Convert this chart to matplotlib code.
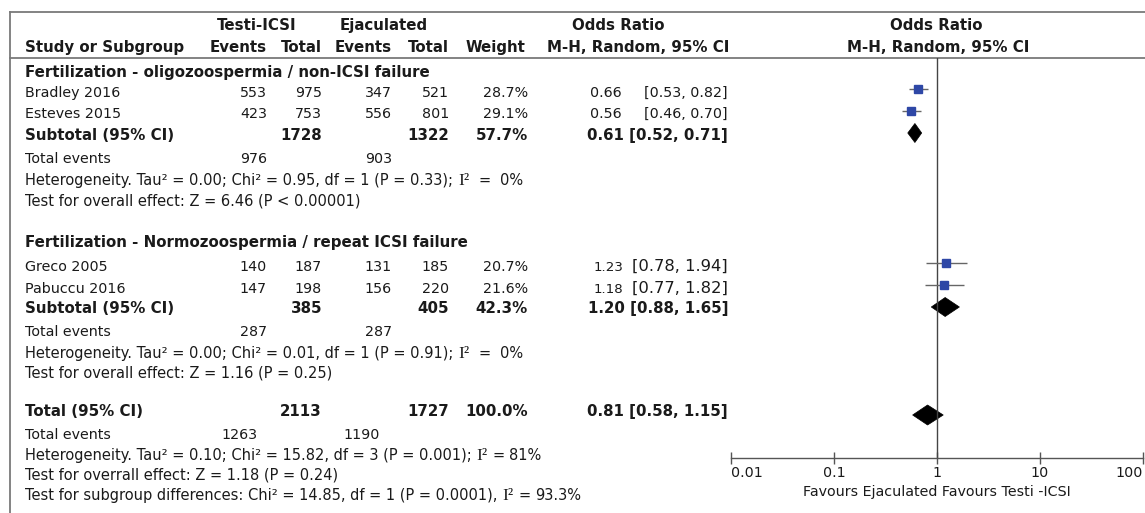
import re
import matplotlib
matplotlib.use('Agg')
import matplotlib.pyplot as plt
from matplotlib.patches import Polygon
from matplotlib.transforms import blended_transform_factory

plt.rcParams['font.family'] = ['DejaVu Sans']

# Study level data
studies = ["Bradley 2016", "Esteves 2015", "Greco 2005", "Pabuccu 2016"]
testi_events = [553, 423, 140, 147]
testi_total = [975, 753, 187, 198]
ejac_events = [347, 556, 131, 156]
ejac_total = [521, 801, 185, 220]
weights = [28.7, 29.1, 20.7, 21.6]
odds = [0.66, 0.56, 1.23, 1.18]
ci_low = [0.53, 0.46, 0.78, 0.77]
ci_high = [0.82, 0.70, 1.94, 1.82]

# Subgroups
groups = ["Fertilization - oligozoospermia / non-ICSI failure",
          "Fertilization - Normozoospermia / repeat ICSI failure"]
sub_testi_total = [1728, 385]
sub_ejac_total = [1322, 405]
sub_weight = [57.7, 42.3]
sub_odds = [0.61, 1.20]
sub_low = [0.52, 0.88]
sub_high = [0.71, 1.65]
sub_testi_events = [976, 287]
sub_ejac_events = [903, 287]
sub_het = ["Heterogeneity. Tau\u00b2 = 0.00; Chi\u00b2 = 0.95, df = 1 (P = 0.33); I\u00b2  =  0%",
           "Heterogeneity. Tau\u00b2 = 0.00; Chi\u00b2 = 0.01, df = 1 (P = 0.91); I\u00b2  =  0%"]
sub_effect = ["Test for overall effect: Z = 6.46 (P < 0.00001)",
              "Test for overall effect: Z = 1.16 (P = 0.25)"]

# Overall
tot_testi_total = 2113
tot_ejac_total = 1727
tot_weight = 100.0
tot_odds, tot_low, tot_high = 0.81, 0.58, 1.15
tot_testi_events = 1263
tot_ejac_events = 1190
tot_notes = ["Heterogeneity. Tau\u00b2 = 0.10; Chi\u00b2 = 15.82, df = 3 (P = 0.001); I\u00b2 = 81%",
             "Test for overrall effect: Z = 1.18 (P = 0.24)",
             "Test for subgroup differences: Chi\u00b2 = 14.85, df = 1 (P = 0.0001), I\u00b2 = 93.3%"]

ticks = [0.01, 0.1, 1, 10, 100]
tick_labels = ["0.01", "0.1", "1", "10", "100"]
favours = "Favours Ejaculated Favours Testi -ICSI"

TXT = '#1a1a1a'
LINE = '#7a7a7a'
BLUE = '#2e47a6'
FS = 10.3      # body text
FS_B = 10.8    # bold rows
FS_N = 10.5    # notes

fig = plt.figure(figsize=(11.45, 5.13), dpi=100)
bg = fig.add_axes([0, 0, 1, 1])
bg.set_xlim(0, 1145)
bg.set_ylim(513, 0)
bg.axis('off')
renderer = fig.canvas.get_renderer()


def put(x, y, s, ha='left', bold=False, size=None, family=None):
    if size is None:
        size = FS_B if bold else FS
    kw = {'family': family} if family else {}
    return bg.text(x, y, s, ha=ha, va='baseline', fontsize=size, color=TXT,
                   fontweight='bold' if bold else 'normal', **kw)


def put_note(x, y, s, size=FS_N):
    # the I-squared symbol is set in a serif face, the rest in the body font
    if "I\u00b2" not in s:
        put(x, y, s, size=size)
        return
    head, tail = s.split("I\u00b2")
    t = put(x, y, head.rstrip(), size=size)
    x += t.get_window_extent(renderer).width + 5
    t = put(x, y, "I\u00b2", size=12.5, family='Liberation Serif')
    x += t.get_window_extent(renderer).width
    for spaces, word in re.findall(r'(\s*)(\S+)', tail):
        x += 4.6 * len(spaces)
        t = put(x, y, word, size=size)
        x += t.get_window_extent(renderer).width


# frame
bg.plot([10, 1145], [12, 12], color=LINE, lw=1.3)
bg.plot([10, 10], [12, 513], color=LINE, lw=1.3)
bg.plot([10, 1145], [58, 58], color=LINE, lw=1.3)

# headers
put(257, 30, "Testi-ICSI", ha='center', bold=True)
put(384, 30, "Ejaculated", ha='center', bold=True)
put(618, 30, "Odds Ratio", ha='center', bold=True)
put(936, 30, "Odds Ratio", ha='center', bold=True)
put(25, 52, "Study or Subgroup", bold=True)
put(267, 52, "Events", ha='right', bold=True)
put(322, 52, "Total", ha='right', bold=True)
put(392, 52, "Events", ha='right', bold=True)
put(449, 52, "Total", ha='right', bold=True)
put(525, 52, "Weight", ha='right', bold=True)
put(638, 52, "M-H, Random, 95% CI", ha='center', bold=True)
put(938, 52, "M-H, Random, 95% CI", ha='center', bold=True)

# columns (right edges)
c_te, c_tt, c_ee, c_et, c_w, c_or, c_ci = 267, 322, 392, 449, 528, 622, 728

group_rows = [
    dict(head=77, studies=[0, 1], base=[97, 118], sub=140, ev=163, het=185, eff=206,
         ymark=[89, 111], ydia=133),
    dict(head=247, studies=[2, 3], base=[271, 293], sub=313, ev=336, het=358, eff=378,
         ymark=[263, 285], ydia=307),
]

fa = fig.add_axes([731 / 1145, 55 / 513, 412 / 1145, 400 / 513])
fa.set_xscale('log')
fa.set_xlim(0.01, 100)
fa.set_ylim(458, 58)
fa.patch.set_alpha(0)
for s in ['top', 'right', 'left']:
    fa.spines[s].set_visible(False)
fa.spines['bottom'].set_color('#555555')
fa.spines['bottom'].set_linewidth(1.0)
fa.set_yticks([])
fa.set_xticks(ticks)
fa.set_xticklabels([])
fa.xaxis.set_minor_locator(plt.NullLocator())
fa.tick_params(axis='x', direction='inout', length=8.5, width=1.0, color='#555555')
fa.axvline(1, color='#444444', lw=1.0)


def diamond(est, lo, hi, y, h):
    fa.add_patch(Polygon([(lo, y), (est, y - h), (hi, y), (est, y + h)],
                         closed=True, facecolor='black', edgecolor='black', lw=0.5))


for g, r in enumerate(group_rows):
    put(25, r['head'], groups[g], bold=True)
    for k, i in enumerate(r['studies']):
        b = r['base'][k]
        put(25, b, studies[i])
        put(c_te, b, str(testi_events[i]), ha='right')
        put(c_tt, b, str(testi_total[i]), ha='right')
        put(c_ee, b, str(ejac_events[i]), ha='right')
        put(c_et, b, str(ejac_total[i]), ha='right')
        put(c_w, b, f"{weights[i]:.1f}%", ha='right')
        if g == 0:
            put(c_or, b, f"{odds[i]:.2f}", ha='right')
            put(c_ci, b, f"[{ci_low[i]:.2f}, {ci_high[i]:.2f}]", ha='right')
        else:
            put(623, b, f"{odds[i]:.2f}", ha='right', size=9.6)
            put(c_ci, b, f"[{ci_low[i]:.2f}, {ci_high[i]:.2f}]", ha='right', size=11.8)
        y = r['ymark'][k]
        fa.hlines(y, ci_low[i], ci_high[i], color='#666666', lw=1.0)
        fa.plot(odds[i], y, marker='s', markersize=6, color=BLUE, mec=BLUE)
    put(25, r['sub'], "Subtotal (95% CI)", bold=True)
    put(c_tt, r['sub'], str(sub_testi_total[g]), ha='right', bold=True)
    put(c_et, r['sub'], str(sub_ejac_total[g]), ha='right', bold=True)
    put(c_w, r['sub'], f"{sub_weight[g]:.1f}%", ha='right', bold=True)
    put(c_ci, r['sub'], f"{sub_odds[g]:.2f} [{sub_low[g]:.2f}, {sub_high[g]:.2f}]",
        ha='right', bold=True)
    diamond(sub_odds[g], sub_low[g], sub_high[g], r['ydia'], 9.5)
    put(25, r['ev'], "Total events")
    put(c_te, r['ev'], str(sub_testi_events[g]), ha='right')
    put(c_ee, r['ev'], str(sub_ejac_events[g]), ha='right')
    put_note(25, r['het'], sub_het[g])
    put_note(25, r['eff'], sub_effect[g])

# overall
put(25, 416, "Total (95% CI)", bold=True)
put(c_tt, 416, str(tot_testi_total), ha='right', bold=True)
put(c_et, 416, str(tot_ejac_total), ha='right', bold=True)
put(c_w, 416, f"{tot_weight:.1f}%", ha='right', bold=True)
put(c_ci, 416, f"{tot_odds:.2f} [{tot_low:.2f}, {tot_high:.2f}]", ha='right', bold=True)
diamond(tot_odds, tot_low, tot_high, 415, 10)
put(25, 439, "Total events")
put(258, 439, str(tot_testi_events), ha='right')
put(380, 439, str(tot_ejac_events), ha='right')
for y, s in zip([460, 480, 500], tot_notes):
    put_note(25, y, s)

# axis labels
tr = blended_transform_factory(fa.transData, bg.transData)
aligns = ['left', 'center', 'center', 'center', 'right']
for t, lab, ha in zip(ticks, tick_labels, aligns):
    fa.text(t, 477, lab, transform=tr, ha=ha, va='baseline', fontsize=FS, color=TXT)
fa.text(1, 496, favours, transform=tr, ha='center', va='baseline', fontsize=FS, color=TXT)

fig.savefig('out.png', dpi=100)
